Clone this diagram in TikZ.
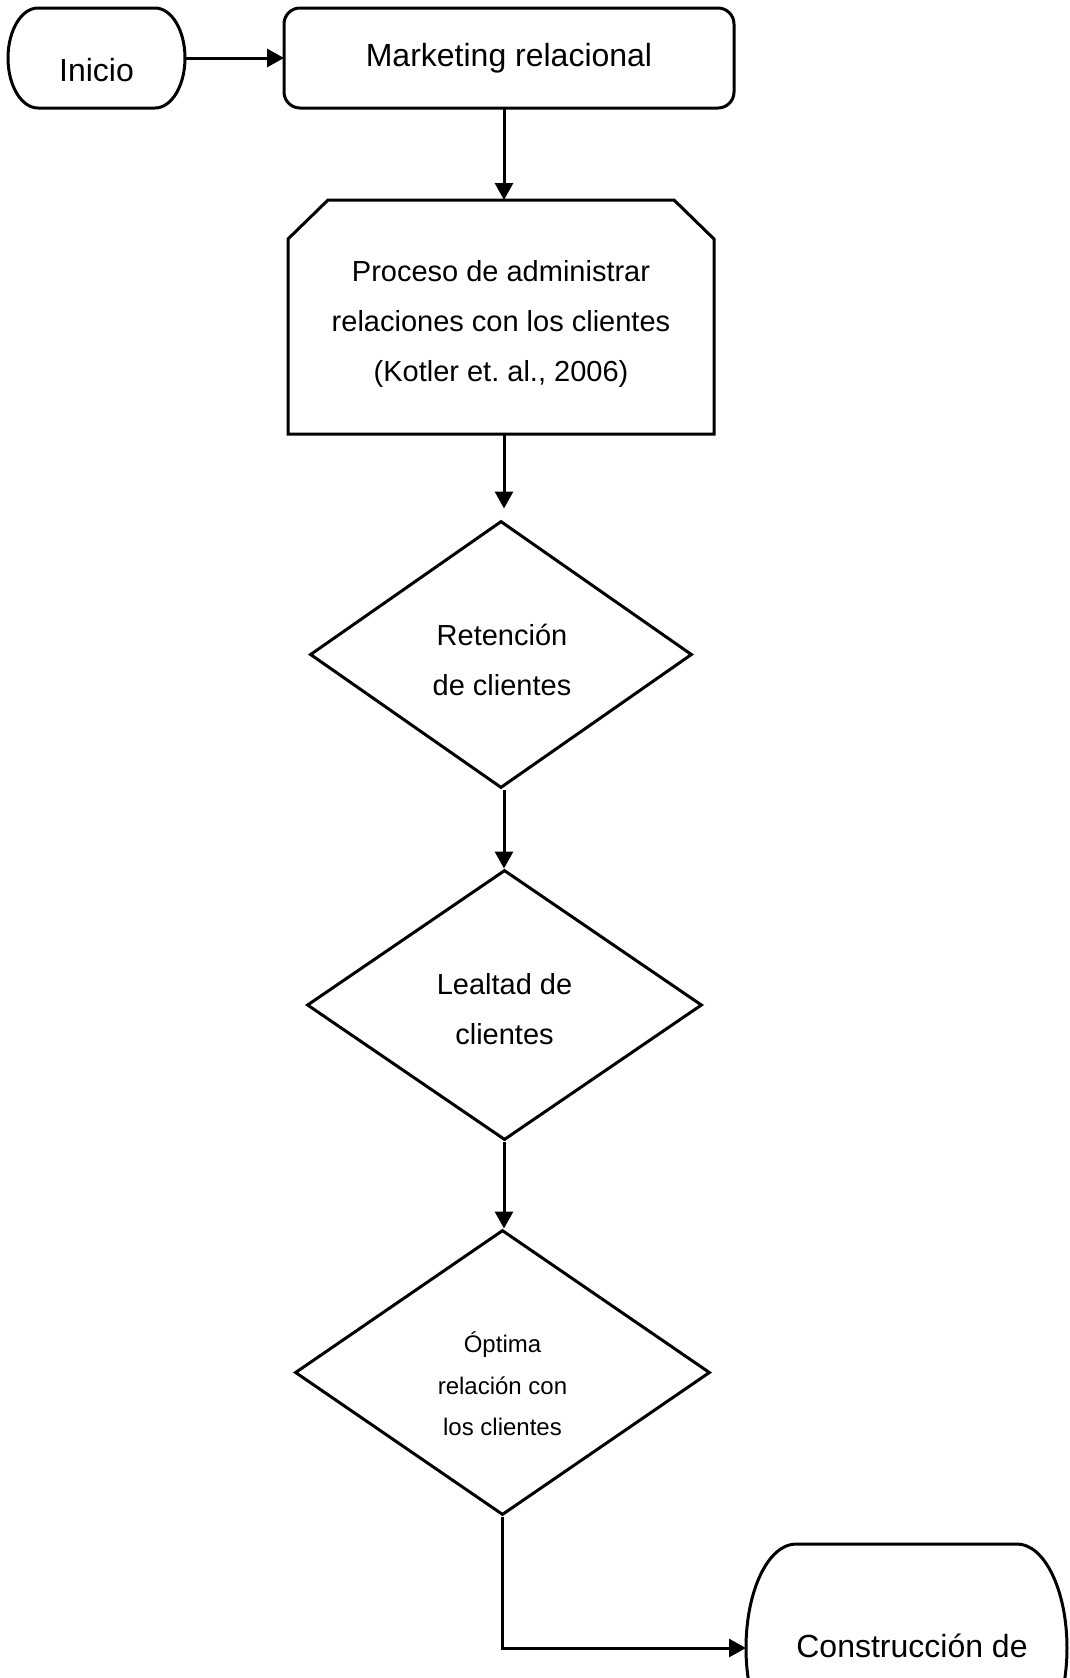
\documentclass[tikz,border=0pt]{standalone}
\usepackage{fontspec}
\setmainfont{Liberation Sans}
\usetikzlibrary{shapes.geometric,arrows.meta,calc}
\begin{document}
\frenchspacing
\begin{tikzpicture}[x=0.5pt,y=-0.5pt,line width=1.5pt,
  arr/.style={-{Triangle[length=8.5pt,width=9pt]}},
  shapebox/.style={rectangle,inner sep=0pt,outer sep=0pt},
  dia/.style={draw,diamond,inner sep=0pt},
  txt/.style={align=center,inner sep=0pt},
  bigfont/.style={font=\fontsize{16}{19}\selectfont},
  midfont/.style={font=\fontsize{14.5}{25}\selectfont},
  smallfont/.style={font=\fontsize{12}{20.75}\selectfont}]
\clip (0,0) rectangle (1070,1678);
\coordinate (sp) at (504,0);

% Inicio
\node[shapebox,bigfont,minimum width=88.5pt,minimum height=50pt,text height=23pt,text depth=0pt] (ini) at (96.5,58) {Inicio};
\draw ($(ini.north west)+(15pt,0)$) -- ($(ini.north east)+(-15pt,0)$)
  arc[start angle=90,end angle=-90,x radius=15pt,y radius=25pt]
  -- ($(ini.south west)+(15pt,0)$)
  arc[start angle=270,end angle=90,x radius=15pt,y radius=25pt] -- cycle;

% Marketing relacional
\node[draw,rounded corners=8pt,shapebox,bigfont,minimum width=225pt,minimum height=50pt] (mkt) at (509,58) {Marketing relacional};

% Proceso
\node[shapebox,minimum width=213pt,minimum height=117pt] (proc) at (501,317) {};
\draw ($(proc.north west)+(0,-19.5pt)$) -- ($(proc.north west)+(20pt,0)$)
  -- ($(proc.north east)+(-20pt,0)$) -- ($(proc.north east)+(0,-19.5pt)$)
  -- (proc.south east) -- (proc.south west) -- cycle;
\node[txt,midfont] (procT) at (501,323.5) {Proceso de administrar\\relaciones con los clientes\\(Kotler et. al., 2006)};

% Retencion
\node[dia,minimum width=191pt,minimum height=133.5pt] (ret) at (501,654.5) {};
\node[txt,midfont] (retT) at (502,659.5) {Retención\\de clientes};

% Lealtad
\node[dia,minimum width=197.5pt,minimum height=135pt] (leal) at (504.5,1005) {};
\node[txt,midfont] (lealT) at (504.5,1009) {Lealtad de\\clientes};

% Optima
\node[dia,minimum width=207.5pt,minimum height=142.5pt] (opt) at (502.5,1372.5) {};
\node[txt,smallfont] (optT) at (502.5,1384) {Óptima\\relación con\\los clientes};

% Construccion
\node[shapebox,minimum width=160.5pt,minimum height=104pt] (cons) at (906.5,1648) {};
\draw ($(cons.north west)+(25pt,0)$) -- ($(cons.north east)+(-25pt,0)$)
  arc[start angle=90,end angle=-90,x radius=25pt,y radius=52pt]
  -- ($(cons.south west)+(25pt,0)$)
  arc[start angle=270,end angle=90,x radius=25pt,y radius=52pt] -- cycle;
\node[txt,bigfont] (consT) at (912,1646) {Construcción de};

% connectors
\draw[arr] (ini.east) -- (mkt.west);
\draw[arr] (mkt.south -| sp) -- (proc.north -| sp);
\draw[arr,shorten >=5.5pt] (proc.south -| sp) -- (ret.north -| sp);
\draw[arr] (ret.south -| sp) -- (leal.north -| sp);
\draw[arr] (leal.south -| sp) -- (opt.north -| sp);
\draw[arr] (opt.south) |- (cons.west);
\end{tikzpicture}
\end{document}
